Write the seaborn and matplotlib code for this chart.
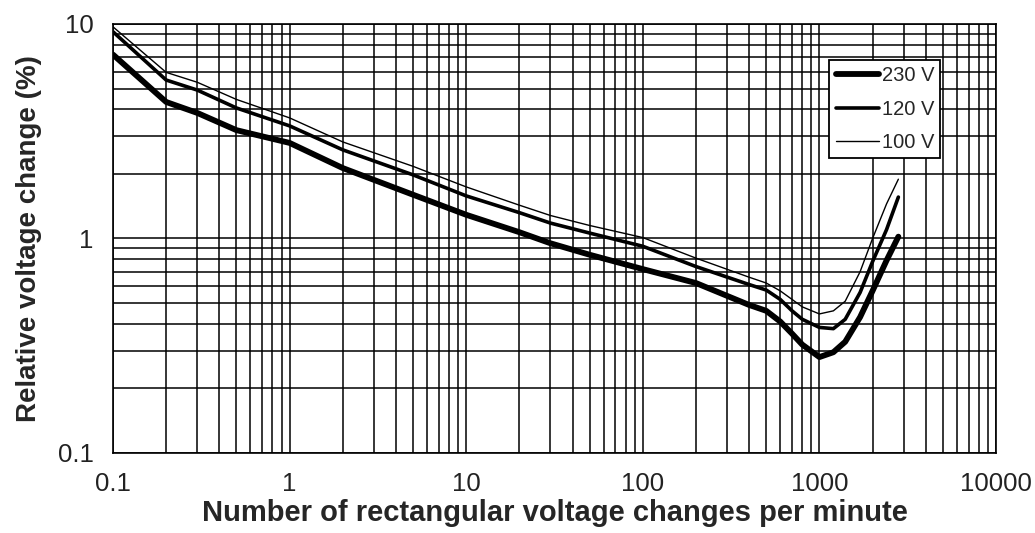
import matplotlib
matplotlib.use("Agg")
import matplotlib.pyplot as plt
import pandas as pd
import seaborn as sns
from matplotlib.ticker import LogLocator, FixedLocator, NullFormatter


# Chart data
changes_per_min = [0.1, 0.2, 0.3, 0.5, 1, 2, 5, 10, 20, 30, 50, 100, 200, 400,
                   500, 600, 700, 800, 1000, 1200, 1400, 1700, 2000, 2400, 2800]
v230 = [7.2, 4.33, 3.85, 3.2, 2.79, 2.13, 1.6, 1.29, 1.07, 0.95, 0.84, 0.72, 0.62, 0.49,
        0.46, 0.41, 0.36, 0.32, 0.28, 0.295, 0.33, 0.43, 0.57, 0.79, 1.02]
v120 = [9.2, 5.48, 4.92, 4.06, 3.35, 2.59, 1.98, 1.58, 1.32, 1.18, 1.06, 0.92, 0.74, 0.61,
        0.575, 0.52, 0.46, 0.42, 0.385, 0.38, 0.42, 0.56, 0.78, 1.1, 1.56]
v100 = [9.7, 5.95, 5.35, 4.45, 3.65, 2.82, 2.17, 1.74, 1.43, 1.28, 1.15, 1.01, 0.81, 0.66,
        0.62, 0.57, 0.52, 0.48, 0.445, 0.46, 0.51, 0.70, 1.0, 1.45, 1.89]
series = ["230 V", "120 V", "100 V"]
widths = [4.2, 2.6, 1.0]
x_ticks = [0.1, 1, 10, 100, 1000, 10000]
x_labels = ["0.1", "1", "10", "100", "1000", "10000"]
y_ticks = [0.1, 1, 10]
y_labels = ["0.1", "1", "10"]


def build_frame():
    rows = []
    for name, vals in zip(series, [v230, v120, v100]):
        for x, y in zip(changes_per_min, vals):
            rows.append((x, y, name))
    return pd.DataFrame(rows, columns=["x", "y", "supply"])


def plot(df):
    sns.set_style("white")
    plt.rcParams["font.family"] = ["Liberation Sans", "DejaVu Sans"]
    fig = plt.figure(figsize=(10.35, 5.33), dpi=100)
    ax = fig.add_axes([113 / 1035, 1 - 453 / 533, 883 / 1035, 429 / 533])

    for name, lw in zip(series, widths):
        sub = df[df["supply"] == name]
        sns.lineplot(data=sub, x="x", y="y", ax=ax, color="black", linewidth=lw,
                     label=name, sort=False, estimator=None)

    ax.set_xscale("log")
    ax.set_yscale("log")
    ax.set_xlim(0.1, 10000)
    ax.set_ylim(0.1, 10)

    ax.xaxis.set_major_locator(FixedLocator(x_ticks))
    ax.set_xticklabels(x_labels)
    ax.yaxis.set_major_locator(FixedLocator(y_ticks))
    ax.set_yticklabels(y_labels)
    for axis in (ax.xaxis, ax.yaxis):
        axis.set_minor_locator(LogLocator(base=10, subs=range(2, 10)))
        axis.set_minor_formatter(NullFormatter())

    ax.grid(True, which="both", color="black", linewidth=1.1)
    ax.set_axisbelow(True)
    ax.tick_params(which="both", length=0, labelsize=18.5, pad=14, colors="#222222")
    for sp in ax.spines.values():
        sp.set_color("black")
        sp.set_linewidth(1.2)

    ax.set_xlabel("Number of rectangular voltage changes per minute", fontsize=21,
                  fontweight="bold", labelpad=2)
    ax.set_ylabel("Relative voltage change (%)", fontsize=20, fontweight="bold",
                  labelpad=11)

    leg = ax.legend(loc="upper right", bbox_to_anchor=(0.937, 0.916), fontsize=14.5,
                    frameon=True, fancybox=False, framealpha=1, edgecolor="black",
                    handlelength=2.15, handletextpad=0.15, labelspacing=0.72,
                    borderpad=0.3, borderaxespad=0)
    leg.get_frame().set_linewidth(1.3)

    fig.savefig("out.png", dpi=100)


def main():
    df = build_frame()
    plot(df)


if __name__ == "__main__":
    main()
